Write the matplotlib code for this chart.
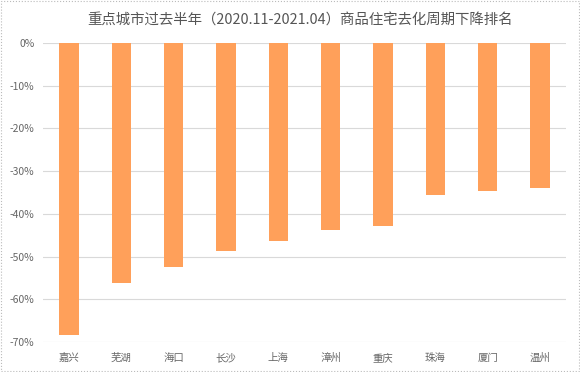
import matplotlib.pyplot as plt
from matplotlib.ticker import FuncFormatter

plt.rcParams['font.family'] = ['Noto Sans CJK SC', 'DejaVu Sans']

cities = ['嘉兴', '芜湖', '海口', '长沙', '上海', '漳州', '重庆', '珠海', '厦门', '温州']
change = [-68.3, -56.2, -52.5, -48.6, -46.4, -43.8, -42.8, -35.6, -34.7, -34.0]
yticks = [0, -10, -20, -30, -40, -50, -60, -70]

fig = plt.figure(figsize=(5.8, 3.72), dpi=100)
ax = fig.add_axes([0.074, 0.081, 0.902, 0.803])

ax.bar(range(len(cities)), change, width=0.37, color='#FFA05A', zorder=3)

ax.set_xlim(-0.5, len(cities) - 0.5)
ax.set_ylim(-70, 0)
ax.set_yticks(yticks)
ax.yaxis.set_major_formatter(FuncFormatter(lambda v, p: f'{v:.0f}%'))
ax.set_xticks(range(len(cities)))
ax.set_xticklabels(cities)
ax.tick_params(axis='both', length=0, colors='#666666', labelsize=7.5)
ax.tick_params(axis='y', pad=6)
ax.tick_params(axis='x', pad=8)
ax.grid(axis='y', color='#d9d9d9', linewidth=0.8, zorder=0)
for s in ax.spines.values():
    s.set_visible(False)

fig.text(0.517, 0.944, '重点城市过去半年（2020.11-2021.04）商品住宅去化周期下降排名',
         ha='center', va='center', fontsize=10.4, color='#555555')

border = plt.Rectangle((0.002, 0.003), 0.996, 0.994, transform=fig.transFigure,
                       fill=False, edgecolor='#bbbbbb', linewidth=0.8, linestyle=':')
fig.patches.append(border)

fig.savefig('out.png', dpi=100)
